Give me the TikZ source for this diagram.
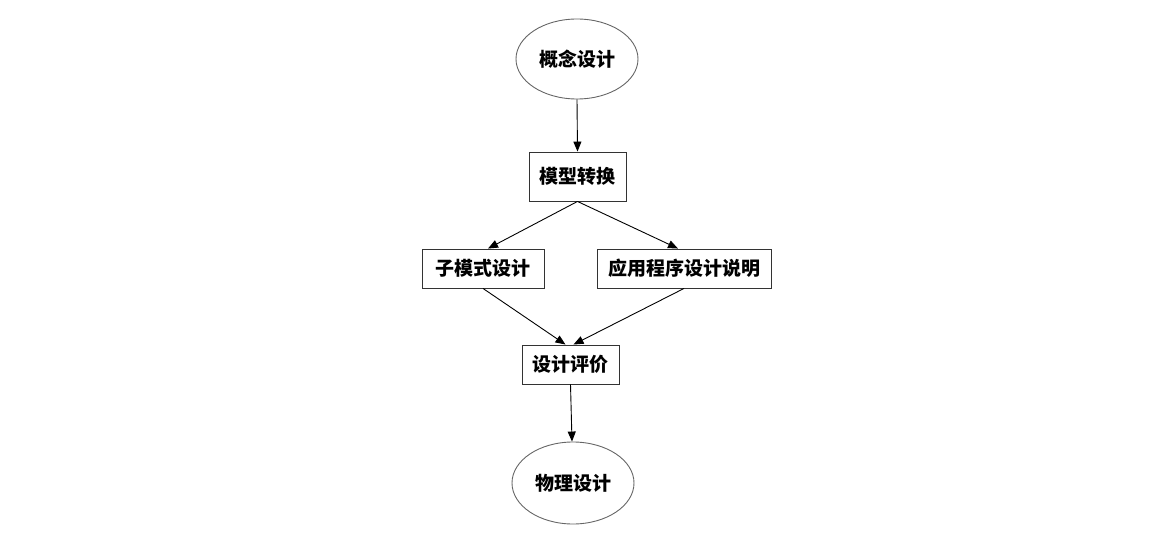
\documentclass[tikz,border=0pt]{standalone}
\usepackage{fontspec}
\setmainfont{Noto Sans CJK SC}
\usetikzlibrary{shapes.geometric,arrows.meta}
\tikzset{
  box/.style={draw=black!80, line width=0.9pt, minimum height=39pt, inner sep=0pt, font=\bfseries\fontsize{19}{21}\selectfont},
  oval/.style={ellipse, draw=black!60, line width=0.9pt, minimum width=122pt, minimum height=80pt, inner sep=0pt, font=\bfseries\fontsize{19}{21}\selectfont},
  arr/.style={-{Triangle[length=10pt,width=8pt]}, line width=0.9pt, black}
}
\begin{document}
\begin{tikzpicture}[x=1pt,y=-1pt]
\useasboundingbox (0,0) rectangle (1157,537);
\node[oval] (a) at (577,59) {概念设计};
\node[box, minimum width=97pt, minimum height=49pt] (b) at (577.5,176.5) {模型转换};
\node[box, minimum width=122pt] (c) at (483,268.5) {子模式设计};
\node[box, minimum width=174pt] (d) at (684,268.5) {应用程序设计说明};
\node[box, minimum width=97pt] (e) at (570.5,364.5) {设计评价};
\node[oval, minimum height=82pt] (f) at (573,483) {物理设计};
\draw[arr] (a.south) -- (b.north);
\draw[arr] (b.south) -- ([xshift=5pt]c.north);
\draw[arr] (b.south) -- ([xshift=-6pt]d.north);
\draw[arr] (c.south) -- ([xshift=-5pt]e.north);
\draw[arr] (d.south) -- ([xshift=3pt]e.north);
\draw[arr] (e.south) -- ([xshift=-1pt]f.north);
\end{tikzpicture}
\end{document}
